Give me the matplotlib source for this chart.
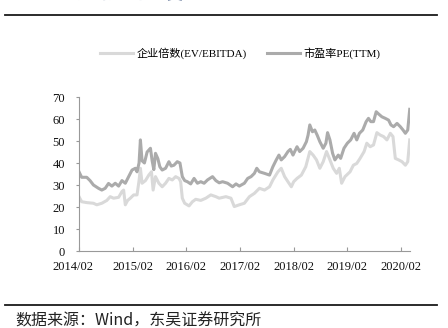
import matplotlib
matplotlib.use("Agg")
import matplotlib.pyplot as plt
from matplotlib.lines import Line2D
import matplotlib.transforms as mtransforms

# Time positions are fractional years (2014.083 = Feb 2014)
ev_t = [2014.083, 2014.133, 2014.227, 2014.352, 2014.414, 2014.508, 2014.602, 2014.664,
        2014.727, 2014.821, 2014.883, 2014.914, 2014.946, 2014.989, 2015.039, 2015.102,
        2015.164, 2015.202, 2015.227, 2015.258, 2015.321, 2015.383, 2015.433, 2015.464,
        2015.508, 2015.571, 2015.633, 2015.696, 2015.758, 2015.821, 2015.883, 2015.946,
        2015.977, 2016.008, 2016.052, 2016.133, 2016.196, 2016.258, 2016.352, 2016.446,
        2016.539, 2016.633, 2016.695, 2016.820, 2016.914, 2016.976, 2017.070, 2017.164,
        2017.258, 2017.351, 2017.445, 2017.539, 2017.633, 2017.695, 2017.789, 2017.851,
        2017.914, 2017.976, 2018.039, 2018.083, 2018.145, 2018.226, 2018.308, 2018.383,
        2018.445, 2018.508, 2018.570, 2018.633, 2018.695, 2018.758, 2018.820, 2018.883,
        2018.933, 2018.976, 2019.039, 2019.133, 2019.195, 2019.258, 2019.320, 2019.395,
        2019.445, 2019.508, 2019.570, 2019.633, 2019.695, 2019.758, 2019.820, 2019.883,
        2019.933, 2019.976, 2020.039, 2020.101, 2020.164, 2020.208, 2020.245]
ev_v = [24.7, 22.4, 22.0, 21.7, 21.0, 21.7, 23.0, 24.7,
        24.0, 24.4, 27.0, 27.7, 21.0, 23.0, 24.0, 25.5,
        25.5, 32.0, 37.6, 30.8, 32.0, 34.5, 36.0, 27.7,
        33.8, 30.8, 29.2, 30.8, 33.0, 32.3, 33.8, 33.0,
        31.5, 24.0, 21.7, 20.5, 22.4, 23.5, 23.0, 24.0,
        25.5, 24.7, 24.0, 24.7, 24.0, 20.2, 21.0, 21.7,
        24.7, 26.2, 28.5, 27.7, 29.2, 32.3, 36.0, 37.6,
        33.8, 31.5, 29.2, 31.5, 33.0, 34.5, 38.3, 45.2,
        43.6, 41.4, 37.6, 40.6, 45.2, 41.4, 37.6, 35.3,
        37.6, 30.8, 33.8, 36.0, 39.0, 39.8, 42.1, 45.2,
        49.0, 47.4, 48.2, 53.8, 52.7, 52.0, 50.5, 53.5,
        52.0, 42.1, 41.4, 40.6, 39.0, 40.6, 50.5]

pe_t = [2014.083, 2014.133, 2014.227, 2014.289, 2014.352, 2014.446, 2014.508, 2014.571,
        2014.633, 2014.696, 2014.758, 2014.821, 2014.883, 2014.946, 2015.008, 2015.071,
        2015.133, 2015.164, 2015.202, 2015.227, 2015.258, 2015.302, 2015.352, 2015.414,
        2015.446, 2015.477, 2015.508, 2015.552, 2015.589, 2015.633, 2015.696, 2015.758,
        2015.802, 2015.852, 2015.914, 2015.964, 2016.008, 2016.052, 2016.102, 2016.164,
        2016.227, 2016.289, 2016.352, 2016.414, 2016.477, 2016.571, 2016.633, 2016.695,
        2016.758, 2016.851, 2016.945, 2017.008, 2017.070, 2017.164, 2017.226, 2017.289,
        2017.351, 2017.395, 2017.445, 2017.539, 2017.633, 2017.695, 2017.758, 2017.808,
        2017.851, 2017.914, 2017.976, 2018.020, 2018.070, 2018.145, 2018.195, 2018.258,
        2018.320, 2018.351, 2018.383, 2018.433, 2018.476, 2018.520, 2018.570, 2018.633,
        2018.683, 2018.714, 2018.758, 2018.808, 2018.851, 2018.914, 2018.958, 2019.020,
        2019.083, 2019.145, 2019.208, 2019.258, 2019.308, 2019.370, 2019.433, 2019.476,
        2019.520, 2019.570, 2019.620, 2019.664, 2019.726, 2019.789, 2019.851, 2019.895,
        2019.945, 2020.008, 2020.070, 2020.120, 2020.164, 2020.208, 2020.245]
pe_v = [36.0, 33.5, 33.5, 32.0, 30.0, 28.5, 27.7, 28.5,
        30.7, 29.5, 30.8, 29.5, 32.0, 30.8, 33.8, 36.8,
        37.6, 36.0, 40.0, 50.5, 41.0, 40.0, 45.0, 46.7,
        41.0, 37.0, 44.4, 42.0, 38.3, 36.8, 37.6, 40.6,
        38.6, 39.0, 40.6, 40.0, 33.8, 32.0, 31.5, 30.5,
        33.0, 30.8, 31.5, 30.8, 32.3, 33.8, 32.0, 31.0,
        31.5, 30.8, 29.2, 30.5, 29.5, 30.8, 33.0, 33.8,
        35.3, 37.6, 36.0, 35.3, 34.5, 38.3, 41.4, 43.6,
        41.4, 42.9, 45.2, 46.2, 43.6, 47.4, 45.2, 46.7,
        49.7, 52.7, 57.3, 54.2, 55.0, 52.7, 49.7, 46.7,
        49.0, 53.8, 50.5, 44.4, 41.4, 43.6, 42.1, 46.7,
        49.0, 50.5, 53.5, 50.5, 53.5, 55.0, 58.8, 60.3,
        58.8, 58.8, 63.3, 62.3, 61.0, 60.3, 59.5, 57.3,
        56.5, 58.0, 56.5, 55.0, 53.5, 55.0, 64.4]

tick_pos = [2014.083, 2015.083, 2016.083, 2017.083, 2018.083, 2019.083, 2020.083]
tick_labels = ["2014/02", "2015/02", "2016/02", "2017/02", "2018/02", "2019/02", "2020/02"]
y_ticks = [0, 10, 20, 30, 40, 50, 60, 70]

ev_name = "企业倍数(EV/EBITDA)"
pe_name = "市盈率PE(TTM)"
title = "图21：传媒行业估值变化"
source = "数据来源：Wind，东吴证券研究所"

W, H = 448, 328
fig = plt.figure(figsize=(W / 100, H / 100), dpi=100)
fig.patch.set_facecolor("white")

ax_left, ax_right = 79, 410
ax_top, ax_bottom = 97, 251
ax = fig.add_axes([ax_left / W, 1 - ax_bottom / H,
                   (ax_right - ax_left) / W, (ax_bottom - ax_top) / H])

ev_color = "#d9d9d9"
pe_color = "#ababab"
ax.plot(ev_t, ev_v, color=ev_color, lw=2.2, solid_joinstyle="round")
ax.plot(pe_t, pe_v, color=pe_color, lw=2.2, solid_joinstyle="round")

ax.set_xlim(2014.083, 2020.25)
ax.set_ylim(0, 70)
ax.set_yticks(y_ticks)
ax.set_xticks(tick_pos)
ax.set_xticklabels(tick_labels)

serif = ["Liberation Serif", "DejaVu Serif"]
for lab in ax.get_xticklabels() + ax.get_yticklabels():
    lab.set_fontfamily(serif)
    lab.set_fontsize(9)
    lab.set_color("#111111")

for s in ("top", "right"):
    ax.spines[s].set_visible(False)
for s in ("left", "bottom"):
    ax.spines[s].set_color("#999999")
    ax.spines[s].set_linewidth(0.8)
ax.tick_params(axis="x", direction="in", length=3, width=0.8, color="#999999", pad=7)
ax.tick_params(axis="y", direction="out", length=2, width=0.8, color="#999999", pad=8)

# first date label sits a little left of the axis origin
first = ax.get_xticklabels()[0]
first.set_transform(first.get_transform() +
                    mtransforms.ScaledTranslation(-6 / 100, 0, fig.dpi_scale_trans))

# legend
handles = [Line2D([], [], color=ev_color, lw=2.2), Line2D([], [], color=pe_color, lw=2.2)]
leg = fig.legend(handles, [ev_name, pe_name], loc="center", ncol=2, frameon=False,
                 bbox_to_anchor=(240 / W, 1 - 53 / H), handlelength=3.0,
                 handletextpad=0.3, columnspacing=1.8,
                 prop={"family": ["Liberation Serif", "Noto Sans CJK SC"], "size": 8})

# header and footer rules
fig.add_artist(Line2D([5 / W, 437 / W], [1 - 14.8 / H, 1 - 14.8 / H],
                      color="#1a1a1a", lw=1.3, transform=fig.transFigure))
fig.add_artist(Line2D([5 / W, 437 / W], [1 - 305 / H, 1 - 305 / H],
                      color="#1a1a1a", lw=1.3, transform=fig.transFigure))

fig.text(15 / W, 1 - 3 / H, title, ha="left", va="bottom", fontsize=12,
         color="#1f3b6e", fontweight="bold", family=["Noto Sans CJK SC", "DejaVu Sans"])
fig.text(15 / W, 1 - 313 / H, source, ha="left", va="top", fontsize=11.5,
         color="#222222", family=["Noto Sans CJK SC", "DejaVu Sans"])

fig.savefig("out.png", dpi=100, facecolor="white")
